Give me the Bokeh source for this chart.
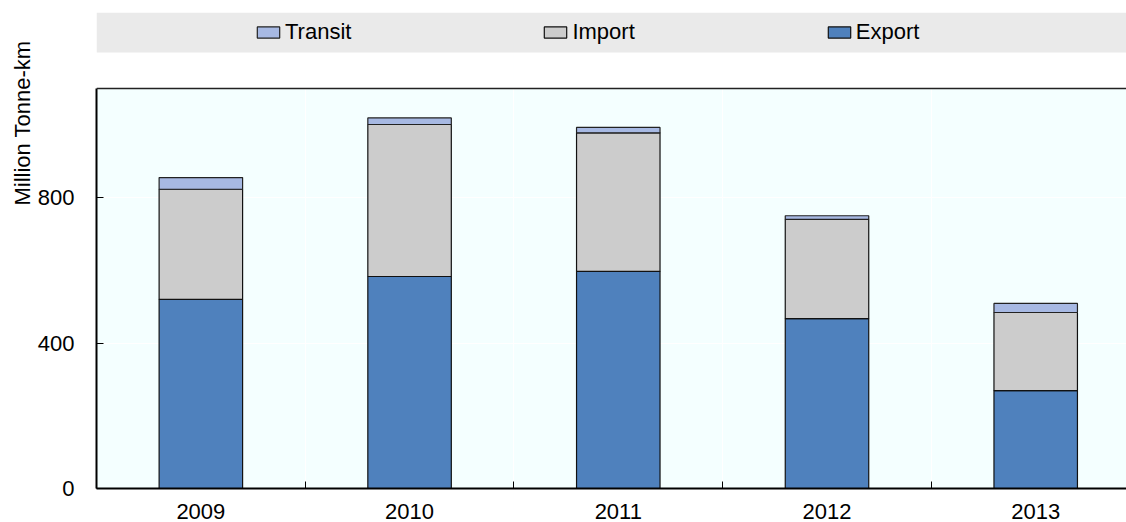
from bokeh.plotting import figure
from bokeh.models import (FixedTicker, Range1d, Legend, LegendItem,
                          BoxAnnotation, Span, Title, ColumnDataSource)
from bokeh.embed import file_html
from bokeh.resources import INLINE

years = ["2009", "2010", "2011", "2012", "2013"]
export = [520, 583, 597, 467, 269]
imports = [303, 418, 381, 273, 215]
transit = [32, 18, 15, 10, 25]
y_ticks = [0, 400, 800]
y_max = 1100

FONT = "'Liberation Sans', Arial, sans-serif"
FS = "22px"
C_EXPORT = "#4F81BD"
C_IMPORT = "#CCCCCC"
C_TRANSIT = "#A7B9E3"

xs = [i + 0.5 for i in range(len(years))]
imp_top = [e + m for e, m in zip(export, imports)]
tr_top = [t + a for t, a in zip(imp_top, transit)]
src = ColumnDataSource(dict(x=xs, export=export, imp_top=imp_top, tr_top=tr_top))

p = figure(width=1126, height=522, output_backend="svg", toolbar_location=None,
           x_range=Range1d(0, 4.935), y_range=Range1d(0, 1309),
           min_border_left=96, min_border_top=12, min_border_right=0,
           min_border_bottom=34)
p.background_fill_color = "white"
p.border_fill_color = "white"
p.outline_line_color = None

# plot-area background (light cyan) up to the top of the value axis
p.add_layout(BoxAnnotation(bottom=0, top=y_max, fill_color="#F4FFFF",
                           fill_alpha=1, line_color=None, level="image"))
# legend band
p.add_layout(BoxAnnotation(bottom=1199, fill_color="#EAEAEA", fill_alpha=1,
                           line_color=None, level="underlay"))
# top border of plot area
p.add_layout(Span(location=y_max, dimension="width", line_color="#222222",
                  line_width=1.5))

w = 0.40
r_exp = p.vbar(x="x", bottom=0, top="export", width=w, source=src,
               fill_color=C_EXPORT, line_color="#111111", line_width=1.2)
r_imp = p.vbar(x="x", bottom="export", top="imp_top", width=w, source=src,
               fill_color=C_IMPORT, line_color="#111111", line_width=1.2)
r_tr = p.vbar(x="x", bottom="imp_top", top="tr_top", width=w, source=src,
              fill_color=C_TRANSIT, line_color="#222222", line_width=1.2)

# x axis: labels at centres, tick marks at category boundaries
xa = p.xaxis[0]
xa.ticker = FixedTicker(ticks=xs, minor_ticks=[1, 2, 3, 4])
xa.major_label_overrides = {x: y for x, y in zip(xs, years)}
xa.major_tick_line_color = None
xa.minor_tick_line_color = "black"
xa.minor_tick_in = 7
xa.minor_tick_out = 0
xa.axis_line_color = "black"
xa.axis_line_width = 2
xa.major_label_text_font = FONT
xa.major_label_text_font_size = FS
xa.major_label_text_color = "black"
xa.major_label_standoff = 9

ya = p.yaxis[0]
ya.ticker = FixedTicker(ticks=y_ticks)
ya.bounds = (0, y_max)
ya.minor_tick_line_color = None
ya.major_tick_in = 7
ya.major_tick_out = 0
ya.major_tick_line_color = "black"
ya.axis_line_color = "black"
ya.axis_line_width = 2
ya.major_label_text_font = FONT
ya.major_label_text_font_size = FS
ya.major_label_text_color = "black"
ya.major_label_standoff = 22

p.add_layout(Title(text="Million Tonne-km", align="right", offset=28,
                   text_font=FONT, text_font_size=FS, text_font_style="normal",
                   text_color="black", standoff=0), "left")

p.xgrid.ticker = FixedTicker(ticks=[1, 2, 3, 4])
p.xgrid.grid_line_color = "white"
p.xgrid.grid_line_width = 1
p.ygrid.ticker = FixedTicker(ticks=y_ticks)
p.ygrid.grid_line_color = "white"
p.ygrid.grid_line_width = 1

legend = Legend(items=[LegendItem(label="Transit", renderers=[r_tr]),
                       LegendItem(label="Import", renderers=[r_imp]),
                       LegendItem(label="Export", renderers=[r_exp])],
                location=(158, 436), orientation="horizontal",
                background_fill_alpha=0, border_line_color=None,
                padding=0, margin=0, spacing=190, label_standoff=3,
                glyph_width=28, glyph_height=14, label_height=40,
                label_text_font=FONT, label_text_font_size=FS,
                label_text_color="black")
p.add_layout(legend)

open("out.html", "w").write(file_html(p, INLINE))
